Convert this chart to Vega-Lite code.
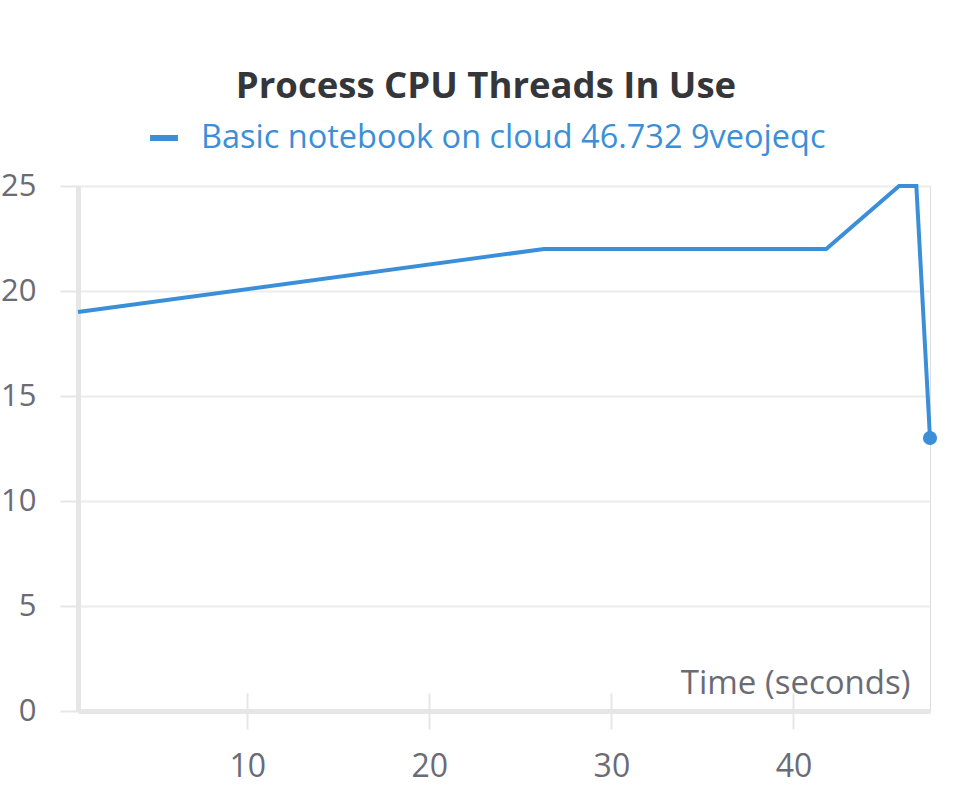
{
  "$schema": "https://vega.github.io/schema/vega-lite/v6.json",
  "autosize": {"type": "none"},
  "width": 852,
  "height": 525,
  "padding": {"left": 78, "top": 186, "right": 41, "bottom": 74},
  "background": "white",
  "title": {
    "text": "Process CPU Threads In Use",
    "font": "Open Sans",
    "fontSize": 36.5,
    "fontWeight": "bold",
    "color": "#35363a",
    "anchor": "middle",
    "dx": -18,
    "offset": 16
  },
  "data": {
    "values": [
      {"time": 0.7, "threads": 19, "run": "Basic notebook on cloud 46.732 9veojeqc"},
      {"time": 26.3, "threads": 22, "run": "Basic notebook on cloud 46.732 9veojeqc"},
      {"time": 41.8, "threads": 22, "run": "Basic notebook on cloud 46.732 9veojeqc"},
      {"time": 45.8, "threads": 25, "run": "Basic notebook on cloud 46.732 9veojeqc"},
      {"time": 46.75, "threads": 25, "run": "Basic notebook on cloud 46.732 9veojeqc"},
      {"time": 47.5, "threads": 13, "run": "Basic notebook on cloud 46.732 9veojeqc"}
    ]
  },
  "layer": [
    {
      "mark": {"type": "line", "strokeWidth": 4, "clip": false},
      "encoding": {
        "x": {
          "field": "time",
          "type": "quantitative",
          "scale": {"domain": [0.7, 47.5], "nice": false, "zero": false},
          "axis": {
            "values": [10, 20, 30, 40],
            "grid": false,
            "domainColor": "#e6e6e6",
            "domainWidth": 5,
            "tickColor": "#e6e6e6",
            "tickWidth": 2,
            "tickSize": 18,
            "labelFont": "Open Sans",
            "labelFontSize": 32,
            "labelColor": "#6b6b76",
            "labelPadding": 22,
            "title": "Time (seconds)",
            "titleFont": "Open Sans",
            "titleFontSize": 33,
            "titleFontWeight": "normal",
            "titleColor": "#6b6b76",
            "titleAnchor": "end",
            "titleAlign": "right",
            "titleBaseline": "alphabetic",
            "titleX": 832,
            "titleY": -18
          }
        },
        "y": {
          "field": "threads",
          "type": "quantitative",
          "scale": {"domain": [0, 25], "nice": false},
          "axis": {
            "values": [0, 5, 10, 15, 20, 25],
            "grid": true,
            "gridColor": "#ececec",
            "gridWidth": 2,
            "domainColor": "#e6e6e6",
            "domainWidth": 5,
            "tickColor": "#e6e6e6",
            "tickWidth": 2,
            "tickSize": 18,
            "labelFont": "Open Sans",
            "labelFontSize": 31,
            "labelColor": "#6b6b76",
            "labelPadding": 24,
            "title": null
          }
        },
        "color": {
          "field": "run",
          "type": "nominal",
          "scale": {"range": ["#3b8fd9"]},
          "legend": {
            "orient": "none",
            "legendX": 69,
            "legendY": -65,
            "direction": "horizontal",
            "title": null,
            "symbolType": "stroke",
            "symbolStrokeWidth": 6,
            "symbolSize": 780,
            "labelFont": "Open Sans",
            "labelFontSize": 32.5,
            "labelColor": "#3b8fd9",
            "labelOffset": 20,
            "labelLimit": 0,
            "padding": 0
          }
        }
      }
    },
    {
      "transform": [{"filter": "datum.time >= 47.5"}],
      "mark": {"type": "point", "filled": true, "size": 200, "opacity": 1, "clip": false},
      "encoding": {
        "x": {
          "field": "time",
          "type": "quantitative",
          "axis": {
            "orient": "top",
            "offset": -525,
            "values": [10, 20, 30, 40],
            "labels": false,
            "domain": false,
            "grid": false,
            "ticks": true,
            "tickSize": 18,
            "tickColor": "#e6e6e6",
            "tickWidth": 2,
            "title": null
          }
        },
        "y": {"field": "threads", "type": "quantitative"},
        "color": {"field": "run", "type": "nominal"}
      }
    }
  ],
  "resolve": {"axis": {"x": "independent"}}
}
